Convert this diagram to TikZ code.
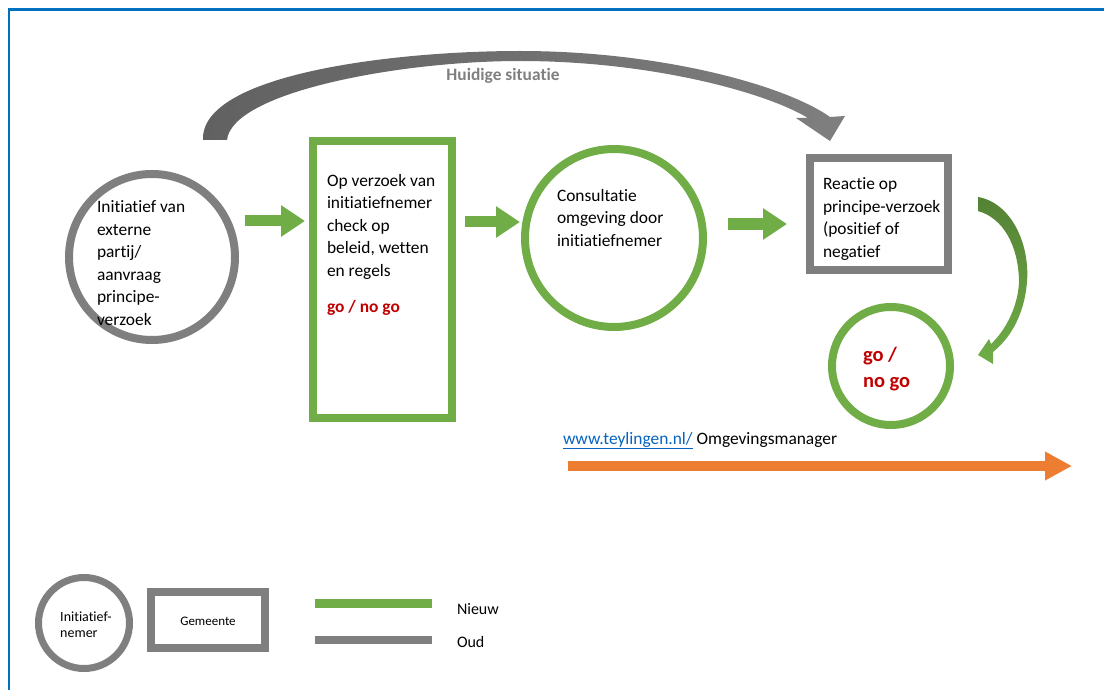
\documentclass[tikz,border=0pt]{standalone}
\usepackage{fontspec}
\setmainfont{Carlito}[Ligatures=NoCommon]
\usetikzlibrary{arrows.meta}
\definecolor{nieuwgreen}{HTML}{70AD47}
\definecolor{darkgreen}{HTML}{548235}
\definecolor{oudgray}{HTML}{7F7F7F}
\definecolor{gored}{HTML}{C00000}
\definecolor{kaderblue}{HTML}{0070C0}
\definecolor{linkblue}{HTML}{0563C1}
\definecolor{omgorange}{HTML}{ED7D31}

\begin{document}
\begin{tikzpicture}[x=1pt, y=-1pt,
  every node/.style={inner sep=0pt, outer sep=0pt},
  rond/.style={circle, draw, line width=8pt},
  blok/.style={rectangle, draw, line width=8pt},
  txt/.style={align=left, anchor=base west, font=\fontsize{17.4}{22.5}\selectfont},
  gotxt/.style={txt, text=gored, font=\fontsize{17.4}{22.5}\selectfont\bfseries},
  kleintxt/.style={align=left, font=\fontsize{14}{16}\selectfont},
  flow/.style={nieuwgreen, line width=11pt, -{Triangle[length=24pt, width=30pt]}}]

\useasboundingbox (0,0) rectangle (1104,690);

% kader
\draw[kaderblue, line width=2.5pt] (9,690) -- (9,9.5) -- (1104,9.5);

% huidige situatie
\shade[left color=black!62, right color=oudgray]
  (203,140) .. controls (200,75) and (390,51) .. (520,51)
  .. controls (660,51) and (785,85) .. (830,117)
  -- (845,116) -- (830,141) -- (796,118) -- (808,118)
  .. controls (765,92) and (650,61) .. (520,61)
  .. controls (400,61) and (232,92) .. (227,140) -- cycle;
\node[font=\fontsize{17.4}{20}\selectfont\bfseries, text=oudgray] (huidig) at (503,76) {Huidige situatie};

% stappen (base = laatste regel)
\node[rond, oudgray, minimum size=166pt] (init) at (152,257) {};
\node[txt] (inittxt) at (97,325) {Initiatief van\\externe\\partij/\\aanvraag\\principe-\\verzoek};

\node[blok, nieuwgreen, minimum width=139pt, minimum height=276pt] (check) at (382,279.5) {};
\node[txt] (checktxt) at (327,276) {Op verzoek van\\initiatiefnemer\\check op\\beleid, wetten\\en regels};
\node[gotxt] (checkgo) at (327,312) {go / no go};

\node[rond, nieuwgreen, minimum size=178pt] (consult) at (614,238) {};
\node[txt] (consulttxt) at (557,246) {Consultatie\\omgeving door\\initiatiefnemer};

\node[blok, oudgray, minimum width=138pt, minimum height=112pt] (reactie) at (879,214) {};
\node[txt] (reactietxt) at (823,257) {Reactie op\\principe-verzoek\\(positief of\\negatief};

\node[rond, nieuwgreen, minimum size=118pt] (gonogo) at (891,366) {};
\node[gotxt, font=\fontsize{20.5}{25.5}\selectfont\bfseries] (gonogotxt) at (863,387) {go /\\no go};

% pijlen
\foreach \n/\xa/\xb/\y in {1/245/305/221, 2/465/520/222, 3/728/787/224} {
  \coordinate (s\n) at (\xa,\y);
  \coordinate (e\n) at (\xb,\y);
  \draw[flow] (s\n) -- (e\n);
}

\shade[top color=darkgreen, bottom color=nieuwgreen]
  (978,197) .. controls (1012,203) and (1030,245) .. (1027,282)
  .. controls (1024,318) and (1008,340) .. (993,352)
  -- (993,364) -- (978,355) -- (989,339) -- (991,344)
  .. controls (1008,328) and (1019,302) .. (1019,280)
  .. controls (1018,245) and (1003,218) .. (978,211) -- cycle;

\node[txt] (link) at (563,444) {{\color{linkblue}\underline{www.teylingen.nl/}} Omgevingsmanager};
\coordinate (omgs) at (568,466);
\coordinate (omge) at (1072,466);
\draw[omgorange, line width=10pt, -{Triangle[length=27pt, width=27pt]}] (omgs) -- (omge);

% legenda
\node[rond, oudgray, line width=7pt, minimum size=91pt] (legrond) at (84,623) {};
\node[kleintxt] (legrondtxt) at (86,625) {Initiatief-\\nemer};
\node[blok, oudgray, minimum width=114pt, minimum height=56pt] (legblok) at (208,620) {};
\node[kleintxt, font=\fontsize{13}{16}\selectfont] (legbloktxt) at (208,621) {Gemeente};

\coordinate (nieuwa) at (315,603);
\coordinate (nieuwb) at (432,603);
\coordinate (ouda) at (315,640);
\coordinate (oudb) at (432,640);
\draw[nieuwgreen, line width=9pt] (nieuwa) -- (nieuwb);
\draw[oudgray, line width=8pt] (ouda) -- (oudb);
\node[txt, font=\fontsize{16}{20}\selectfont] (nieuw) at (457,614) {Nieuw};
\node[txt, font=\fontsize{16}{20}\selectfont] (oud) at (457,647) {Oud};

\end{tikzpicture}
\end{document}
